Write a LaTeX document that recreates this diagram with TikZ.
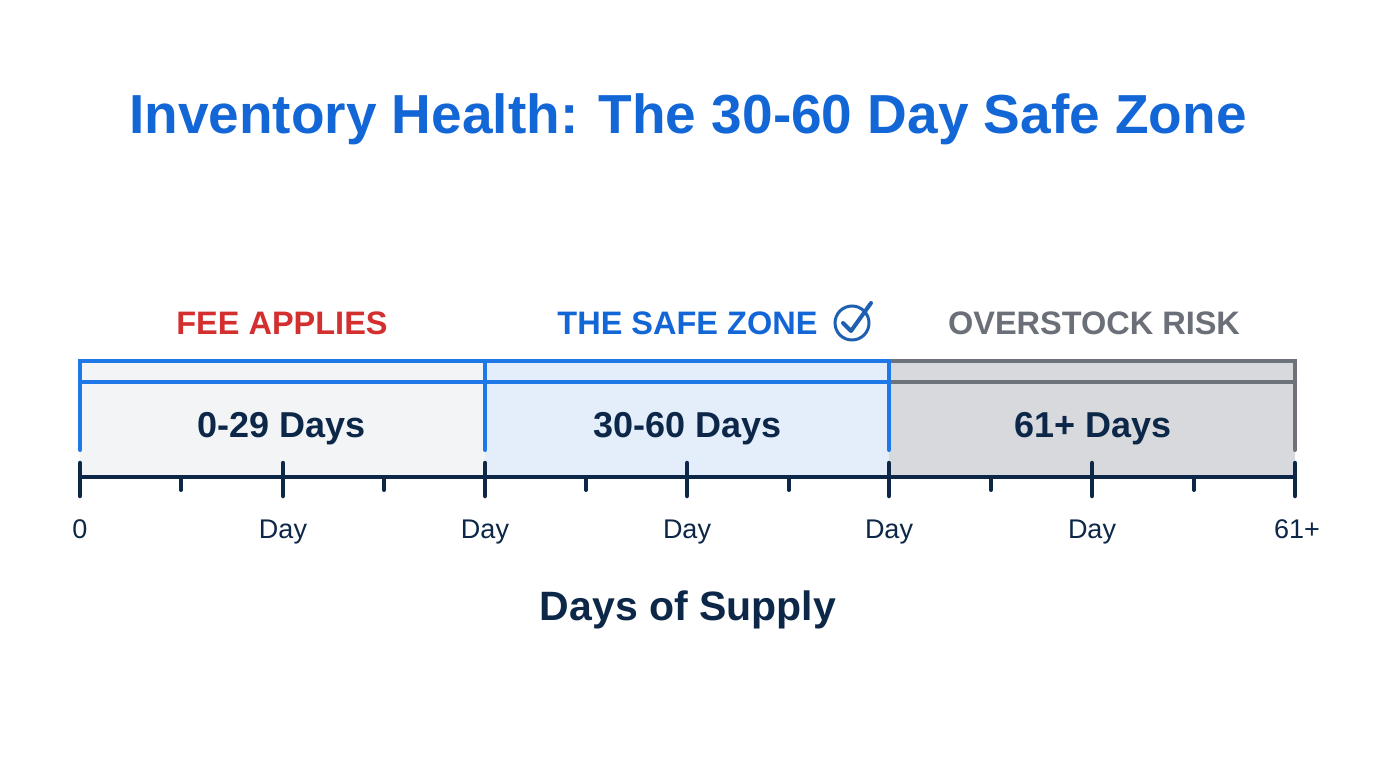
\documentclass[tikz,border=0pt]{standalone}
\usepackage{fontspec}
\setmainfont{Liberation Sans}
\begin{document}
\begin{tikzpicture}[x=1pt,y=-1pt,line cap=round,
  ttl/.style={font=\bfseries\fontsize{55}{60}\selectfont, text=titleblue, anchor=base},
  zlab/.style={font=\bfseries\fontsize{32.5}{36}\selectfont, anchor=base},
  rng/.style={font=\bfseries\fontsize{36}{40}\selectfont, text=navy, anchor=base},
  tlab/.style={font=\fontsize{27}{30}\selectfont, text=navy, anchor=base},
  axlab/.style={font=\bfseries\fontsize{41}{44}\selectfont, text=navy, anchor=base},
  blueln/.style={draw=lineblue, line width=4pt},
  grayln/.style={draw=linegray, line width=4pt},
  major/.style={draw=navy, line width=4.5pt},
  minor/.style={draw=navy, line width=4pt}]
\definecolor{titleblue}{HTML}{1266D6}
\definecolor{lineblue}{HTML}{1E78E8}
\definecolor{linegray}{HTML}{6E737B}
\definecolor{navy}{HTML}{0D2748}
\definecolor{feered}{HTML}{D32F2F}
\definecolor{graytxt}{HTML}{6B7078}
\definecolor{fillone}{HTML}{F3F4F6}
\definecolor{filltwo}{HTML}{E4EEFB}
\definecolor{fillthree}{HTML}{D8D9DD}
\definecolor{checkblue}{HTML}{1F5FB0}
\useasboundingbox[fill=white] (0,0) rectangle (1376,768);

% title
\node[ttl] (title) at (688,133) {Inventory Health: The 30-60 Day Safe Zone};

% zone fills
\fill[fillone] (80,361) rectangle (485,477);
\fill[filltwo] (485,361) rectangle (889,477);
\fill[fillthree] (889,361) rectangle (1295,477);

% zone borders
\draw[grayln] (889,361) -- (1295,361) -- (1295,450);
\draw[grayln] (889,382) -- (1295,382);
\draw[grayln] (889,361) -- (889,382);
\draw[blueln] (80,450) -- (80,361) -- (889,361);
\draw[blueln] (80,382) -- (889,382);
\draw[blueln] (485,361) -- (485,450);
\draw[blueln] (889,361) -- (889,450);

% zone headers
\node[zlab, text=feered] (fee) at (282,334) {FEE APPLIES};
\node[zlab, text=titleblue, anchor=base east] (safe) at (821,334) {THE SAFE ZONE};
\node[zlab, text=graytxt] (over) at (1094,334) {OVERSTOCK RISK};
\coordinate (chk) at (852,323);
\draw[checkblue, line width=3pt] (chk) circle (17);
\draw[checkblue, line width=4pt, line join=round] ([shift={(-9,0)}]chk) -- ([shift={(-1,8)}]chk) -- ([shift={(19,-20)}]chk);

% range labels
\node[rng] (r1) at (282,437) {0-29 Days};
\node[rng] (r2) at (688,437) {30-60 Days};
\node[rng] (r3) at (1093,437) {61+ Days};

% axis
\coordinate (a0) at (80,477);
\coordinate (a1) at (1295,477);
\draw[navy, line width=4.5pt, line cap=butt] (a0) -- (a1);
\foreach \x in {80,283,485,687,889,1092,1295}
  \draw[major] (\x,463) -- (\x,496);
\foreach \x in {181,384,586,789,991,1194}
  \draw[minor] (\x,477) -- (\x,490);

% tick labels
\node[tlab] (t0) at (80,538) {0};
\node[tlab] (t1) at (283,538) {Day};
\node[tlab] (t2) at (485,538) {Day};
\node[tlab] (t3) at (687,538) {Day};
\node[tlab] (t4) at (889,538) {Day};
\node[tlab] (t5) at (1092,538) {Day};
\node[tlab] (t6) at (1297,538) {61+};

% axis title
\node[axlab] (axt) at (688,620) {Days of Supply};
\end{tikzpicture}
\end{document}
